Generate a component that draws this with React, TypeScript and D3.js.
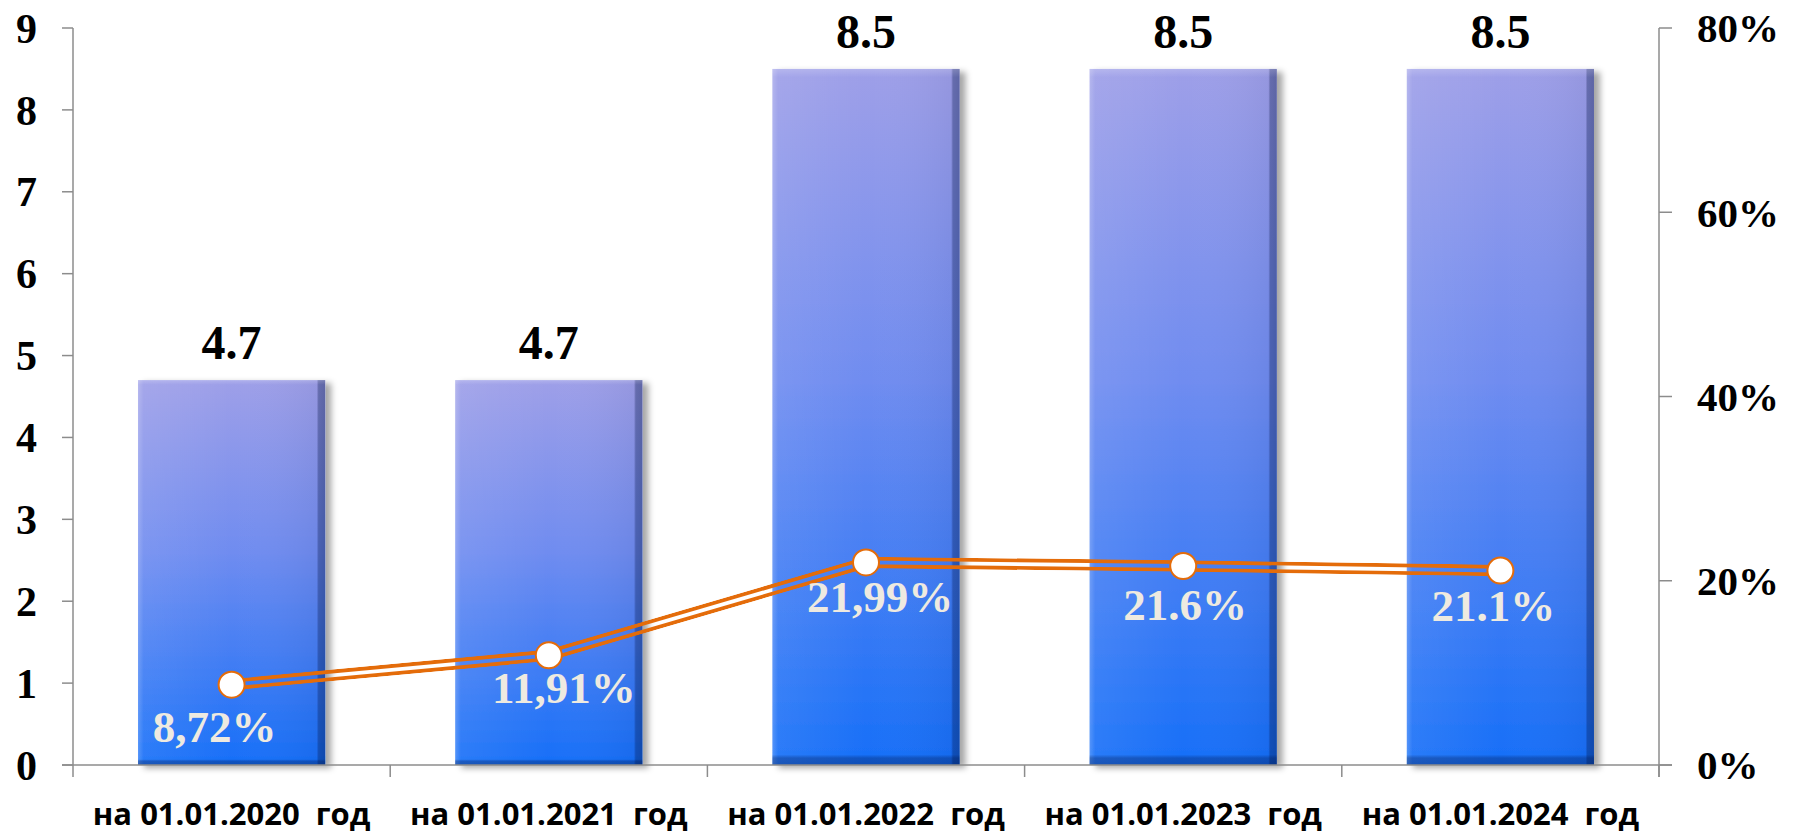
import React from "react";
import * as d3 from "d3";

const categories = [
  "на 01.01.2020  год",
  "на 01.01.2021  год",
  "на 01.01.2022  год",
  "на 01.01.2023  год",
  "на 01.01.2024  год",
];
const barValues = [4.7, 4.7, 8.5, 8.5, 8.5];
const pctValues = [8.72, 11.91, 21.99, 21.6, 21.1];
const pctLabels = ["8,72%", "11,91%", "21,99%", "21.6%", "21.1%"];
const leftTicks = [0, 1, 2, 3, 4, 5, 6, 7, 8, 9];
const rightTicks = [0, 20, 40, 60, 80];

const W = 1801;
const H = 833;
const left = 73;
const right = 1659;
const top = 28;
const bottom = 765;

// label placement tweaks (layout only)
const labelDx = [-17, 15, 14, 2, -7];
const labelDy = [57, 48, 50, 54, 50];

export default function App() {
  const x = d3
    .scaleBand<string>()
    .domain(categories)
    .range([left, right])
    .paddingInner(0.41)
    .paddingOuter(0.205);
  const yL = d3.scaleLinear().domain([0, 9]).range([bottom, top]);
  const yR = d3.scaleLinear().domain([0, 80]).range([bottom, top]);
  const cx = (c: string) => (x(c) as number) + x.bandwidth() / 2;
  const pts: [number, number][] = categories.map((c, i) => [cx(c), yR(pctValues[i])]);
  const linePath = d3.line()(pts) as string;
  const fmt = d3.format(".1f");
  const serif = "'Liberation Serif', 'Times New Roman', serif";
  const sans = "'Open Sans', 'Liberation Sans', sans-serif";
  const axisColor = "#8c8c8c";

  return (
    <svg
      width={W}
      height={H}
      style={{ position: "absolute", left: 0, top: 0, background: "#fff" }}
    >
      <defs>
        <linearGradient id="barV" x1="0" y1="0" x2="0" y2="1">
          <stop offset="0" stopColor="#9e9fe8" />
          <stop offset="0.45" stopColor="#6f8cf0" />
          <stop offset="1" stopColor="#166ff8" />
        </linearGradient>
        <linearGradient id="barH" x1="0" y1="0" x2="1" y2="0">
          <stop offset="0" stopColor="#ffffff" stopOpacity="0.25" />
          <stop offset="0.03" stopColor="#ffffff" stopOpacity="0.08" />
          <stop offset="0.5" stopColor="#ffffff" stopOpacity="0" />
          <stop offset="0.955" stopColor="#000030" stopOpacity="0.05" />
          <stop offset="0.965" stopColor="#001040" stopOpacity="0.35" />
          <stop offset="1" stopColor="#001040" stopOpacity="0.4" />
        </linearGradient>
        <linearGradient id="barB" x1="0" y1="0" x2="0" y2="1">
          <stop offset="0" stopColor="#ffffff" stopOpacity="0.18" />
          <stop offset="0.012" stopColor="#ffffff" stopOpacity="0" />
          <stop offset="0.985" stopColor="#001040" stopOpacity="0" />
          <stop offset="0.99" stopColor="#001040" stopOpacity="0.3" />
          <stop offset="1" stopColor="#001040" stopOpacity="0.35" />
        </linearGradient>
        <filter id="shadow" x="-10%" y="-10%" width="130%" height="120%">
          <feDropShadow dx="6" dy="3" stdDeviation="3" floodColor="#000" floodOpacity="0.35" />
        </filter>
        <mask id="dblMask" maskUnits="userSpaceOnUse" x="0" y="0" width={W} height={H}>
          <path d={linePath} fill="none" stroke="#fff" strokeWidth={11.5} strokeLinejoin="round" />
          <path d={linePath} fill="none" stroke="#000" strokeWidth={3.8} strokeLinejoin="round" />
        </mask>
      </defs>

      {/* bars */}
      {categories.map((c, i) => {
        const bx = x(c) as number;
        const by = yL(barValues[i]);
        const bh = bottom - by;
        return (
          <g key={c}>
            <rect x={bx} y={by} width={x.bandwidth()} height={bh} fill="url(#barV)" filter="url(#shadow)" />
            <rect x={bx} y={by} width={x.bandwidth()} height={bh} fill="url(#barH)" />
            <rect x={bx} y={by} width={x.bandwidth()} height={bh} fill="url(#barB)" />
          </g>
        );
      })}

      {/* axes */}
      <line x1={left} x2={left} y1={top} y2={bottom} stroke={axisColor} strokeWidth={1.5} />
      <line x1={right} x2={right} y1={top} y2={bottom + 12} stroke={axisColor} strokeWidth={1.5} />
      <line x1={left - 11} x2={right + 13} y1={bottom} y2={bottom} stroke={axisColor} strokeWidth={1.5} />
      {leftTicks.map((t) => (
        <g key={"l" + t}>
          <line x1={left - 11} x2={left} y1={yL(t)} y2={yL(t)} stroke={axisColor} strokeWidth={1.5} />
          <text
            x={37}
            y={yL(t)}
            dy="0.35em"
            textAnchor="end"
            fontFamily={serif}
            fontWeight="bold"
            fontSize={42}
            fill="#000"
          >
            {t}
          </text>
        </g>
      ))}
      {rightTicks.map((t) => (
        <g key={"r" + t}>
          <line x1={right} x2={right + 13} y1={yR(t)} y2={yR(t)} stroke={axisColor} strokeWidth={1.5} />
          <text
            x={1697}
            y={yR(t)}
            dy="0.35em"
            textAnchor="start"
            fontFamily={serif}
            fontWeight="bold"
            fontSize={41}
            fill="#000"
          >
            {t}%
          </text>
        </g>
      ))}
      {d3.range(categories.length + 1).map((k) => {
        const xx = left + k * x.step();
        return <line key={"ct" + k} x1={xx} x2={xx} y1={bottom} y2={bottom + 12} stroke={axisColor} strokeWidth={1.5} />;
      })}
      {categories.map((c) => (
        <text
          key={"cl" + c}
          x={cx(c)}
          y={825}
          textAnchor="middle"
          fontFamily={sans}
          fontWeight="bold"
          fontSize={31}
          fill="#000"
          style={{ whiteSpace: "pre" }}
        >
          {c}
        </text>
      ))}

      {/* bar value labels */}
      {categories.map((c, i) => (
        <text
          key={"v" + c}
          x={cx(c)}
          y={yL(barValues[i]) - 21}
          textAnchor="middle"
          fontFamily={serif}
          fontWeight="bold"
          fontSize={48}
          fill="#000"
        >
          {fmt(barValues[i])}
        </text>
      ))}

      {/* double line */}
      <path d={linePath} fill="none" stroke="#e46c0a" strokeWidth={11.5} strokeLinejoin="round" mask="url(#dblMask)" />
      {pts.map((p, i) => (
        <circle key={"m" + i} cx={p[0]} cy={p[1]} r={13} fill="#fff" stroke="#e46c0a" strokeWidth={2} />
      ))}
      {pts.map((p, i) => (
        <text
          key={"pl" + i}
          x={p[0] + labelDx[i]}
          y={p[1] + labelDy[i]}
          textAnchor="middle"
          fontFamily={serif}
          fontWeight="bold"
          fontSize={45}
          fill="#eeeae0"
        >
          {pctLabels[i]}
        </text>
      ))}
    </svg>
  );
}
